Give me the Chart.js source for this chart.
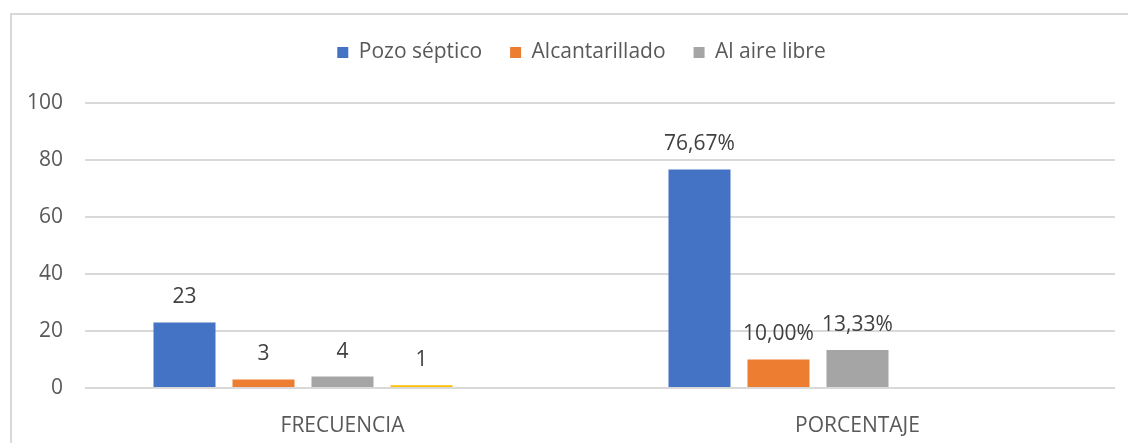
<!DOCTYPE html>
<html>
<head>
<meta charset="utf-8">
<script src="https://cdn.jsdelivr.net/npm/chart.js@4/dist/chart.umd.min.js"></script>
<style>
  html, body { margin: 0; padding: 0; background: #fff; }
  #frame {
    position: absolute; left: 10px; top: 13px;
    width: 1140px; height: 450px;
    border: 2px solid #d9d9d9;
    box-sizing: border-box;
  }
  #wrap { position: absolute; left: 0; top: 0; width: 1128px; height: 443px; }
</style>
</head>
<body>
<div id="frame"></div>
<div id="wrap"><canvas id="chart"></canvas></div>
<script>
// data
var categories = ['FRECUENCIA', 'PORCENTAJE'];
var seriesNames = ['Pozo séptico', 'Alcantarillado', 'Al aire libre', '', ''];
var pozoSeptico = [23, 76.67];
var alcantarillado = [3, 10.00];
var alAireLibre = [4, 13.33];
var otraSerie = [1, null];   // yellow bar, not in the legend
var serieVacia = [null, null];
var yTicks = [0, 20, 40, 60, 80, 100];

var colors = ['#4472C4', '#ED7D31', '#A5A5A5', '#FFC000', '#5B9BD5'];
var allValues = [pozoSeptico, alcantarillado, alAireLibre, otraSerie, serieVacia];

var FONT = '"Open Sans", "Noto Sans", sans-serif';

// value labels above the bars
var barLabels = {
    id: 'barLabels',
    afterDatasetsDraw: function(chart) {
        var ctx = chart.ctx;
        ctx.save();
        ctx.font = '21px ' + FONT;
        ctx.fillStyle = '#404040';
        ctx.textAlign = 'center';
        ctx.textBaseline = 'middle';
        chart.data.datasets.forEach(function(ds, i) {
            var meta = chart.getDatasetMeta(i);
            meta.data.forEach(function(bar, j) {
                var v = ds.data[j];
                if (v === null || v === undefined) return;
                var txt = j === 1 ? v.toFixed(2).replace('.', ',') + '%' : String(v);
                ctx.fillText(txt, bar.x, bar.y - 25);
            });
        });
        ctx.restore();
    }
};

// extra room below the legend, and legend nudged right (centred on the frame)
var legendSpace = {
    id: 'legendSpace',
    beforeInit: function(chart) {
        var fit = chart.legend.fit;
        chart.legend.fit = function() {
            fit.bind(chart.legend)();
            this.height += 30;
        };
    },
    afterLayout: function(chart) {
        chart.legend.left += 24;
        chart.legend.right += 24;
    }
};

var datasets = allValues.map(function(vals, i) {
    return {
        label: seriesNames[i],
        data: vals,
        backgroundColor: colors[i],
        barPercentage: 0.785,
        categoryPercentage: 0.767
    };
});

new Chart(document.getElementById('chart'), {
    type: 'bar',
    data: { labels: categories, datasets: datasets },
    options: {
        responsive: true,
        maintainAspectRatio: false,
        animation: false,
        layout: { padding: { top: 14, right: 13, left: 0, bottom: 0 } },
        plugins: {
            legend: {
                position: 'top',
                labels: {
                    boxWidth: 11,
                    boxHeight: 11,
                    padding: 28,
                    color: '#595959',
                    font: { family: FONT, size: 21 },
                    filter: function(item) { return item.text !== ''; }
                }
            },
            tooltip: { enabled: false }
        },
        scales: {
            x: {
                grid: { display: false },
                border: { display: false },
                ticks: { color: '#595959', font: { family: FONT, size: 21 }, padding: 17 },
                afterFit: function(scale) { scale.height = 55; }
            },
            y: {
                min: 0,
                max: 100,
                afterBuildTicks: function(scale) {
                    scale.ticks = yTicks.map(function(v) { return { value: v }; });
                },
                grid: { color: '#d9d9d9', lineWidth: 2, drawTicks: false },
                border: { display: false },
                ticks: { color: '#595959', font: { family: FONT, size: 21 }, padding: 22 },
                afterFit: function(scale) { scale.width = 85; }
            }
        }
    },
    plugins: [barLabels, legendSpace]
});
</script>
</body>
</html>
